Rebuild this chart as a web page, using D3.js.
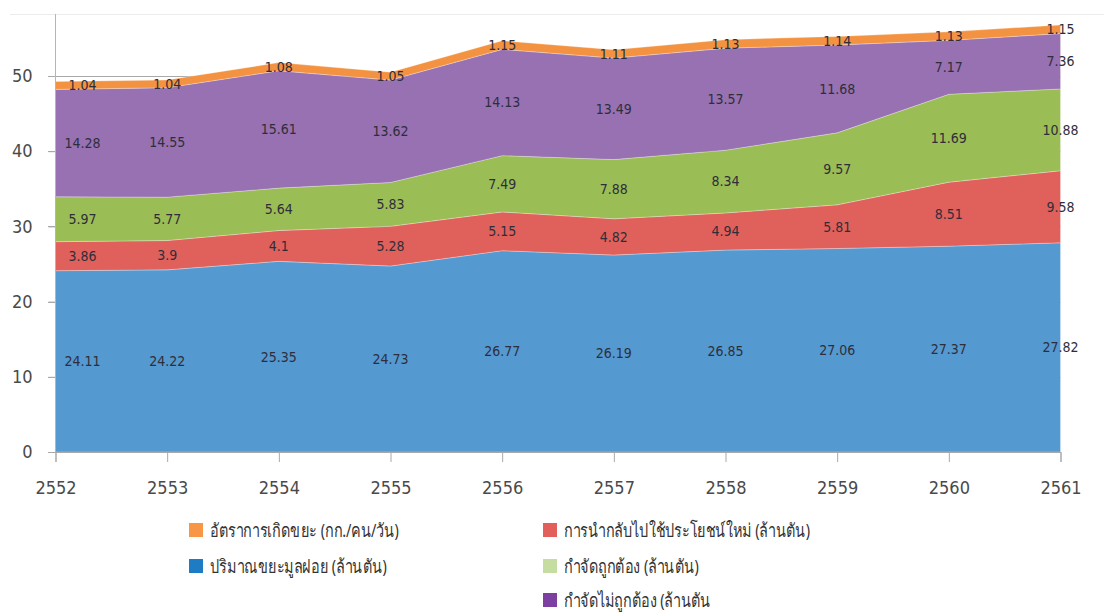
<!DOCTYPE html>
<html>
<head>
<meta charset="utf-8">
<script src="https://cdn.jsdelivr.net/npm/d3@7"></script>
<style>
  body { margin: 0; background: #fff; }
  svg { display: block; }
</style>
</head>
<body>
<svg id="chart" width="1104" height="614"></svg>
<script>
// data
var years = ["2552","2553","2554","2555","2556","2557","2558","2559","2560","2561"];
var wasteTotal = [24.11, 24.22, 25.35, 24.73, 26.77, 26.19, 26.85, 27.06, 27.37, 27.82];
var recycled   = [3.86, 3.9, 4.1, 5.28, 5.15, 4.82, 4.94, 5.81, 8.51, 9.58];
var disposedOk = [5.97, 5.77, 5.64, 5.83, 7.49, 7.88, 8.34, 9.57, 11.69, 10.88];
var disposedBad = [14.28, 14.55, 15.61, 13.62, 14.13, 13.49, 13.57, 11.68, 7.17, 7.36];
var genRate    = [1.04, 1.04, 1.08, 1.05, 1.15, 1.11, 1.13, 1.14, 1.13, 1.15];
var yTicks = [0, 10, 20, 30, 40, 50];

var seriesKeys = ["waste", "recycled", "ok", "bad", "rate"];
var areaColor = {waste: "#5599d1", recycled: "#e0615b", ok: "#9bbd55", bad: "#9771b1", rate: "#f39342"};

var legendItems = [
  {label: "อัตราการเกิดขยะ (กก./คน/วัน)", color: "#f79646", col: 0, row: 0},
  {label: "ปริมาณขยะมูลฝอย (ล้านตัน)", color: "#1e7cc4", col: 0, row: 1},
  {label: "การนำกลับไปใช้ประโยชน์ใหม่ (ล้านตัน)", color: "#e35f5c", col: 1, row: 0},
  {label: "กำจัดถูกต้อง (ล้านตัน)", color: "#c5dda0", col: 1, row: 1},
  {label: "กำจัดไม่ถูกต้อง (ล้านตัน", color: "#7d3fa0", col: 1, row: 2}
];

var table = years.map(function(y, i) {
  return {year: y, waste: wasteTotal[i], recycled: recycled[i], ok: disposedOk[i], bad: disposedBad[i], rate: genRate[i]};
});

var svg = d3.select("#chart");
var axisFont = "'Liberation Sans Narrow', 'DejaVu Sans Condensed', 'Open Sans', sans-serif";

var x = d3.scalePoint().domain(years).range([55.5, 1060.5]);
var y = d3.scaleLinear().domain([0, 50]).range([452, 76]);

// faint line along the top of the frame
svg.append("line")
  .attr("x1", 10).attr("x2", 1104).attr("y1", 14.5).attr("y2", 14.5)
  .style("stroke", "#ececec");

// gridlines (only the one at 50 shows above the areas)
svg.append("g").selectAll("line").data(yTicks).enter().append("line")
  .attr("x1", 48).attr("x2", x("2561"))
  .attr("y1", function(d){ return Math.round(y(d)) + 0.5; })
  .attr("y2", function(d){ return Math.round(y(d)) + 0.5; })
  .style("stroke", "#a9a9a9");

var stack = d3.stack().keys(seriesKeys);
var layers = stack(table);

var area = d3.area()
  .x(function(d){ return x(d.data.year); })
  .y0(function(d){ return y(d[0]); })
  .y1(function(d){ return y(d[1]); });

svg.append("g").selectAll("path").data(layers).enter().append("path")
  .attr("d", area)
  .style("fill", function(d){ return areaColor[d.key]; })
  .style("stroke", "rgba(255,255,255,0.35)")
  .style("stroke-width", 0.8);

// y axis
var yAxis = d3.axisLeft(y).tickValues(yTicks).tickSize(7).tickPadding(16);
var gy = svg.append("g").attr("transform", "translate(55.5,0)").call(yAxis);
gy.select(".domain").remove();
gy.append("line").attr("x1", 0).attr("x2", 0).attr("y1", 14).attr("y2", 452).style("stroke", "#b5b5b5");
gy.selectAll(".tick line").style("stroke", "#a9a9a9");
gy.selectAll(".tick text").style("font-family", axisFont)
  .style("font-size", "18px").style("fill", "#4a4a4a");

// x axis
var xAxis = d3.axisBottom(x).tickSize(10).tickPadding(19);
var gx = svg.append("g").attr("transform", "translate(0,452)").call(xAxis);
gx.select(".domain").style("stroke", "#a9a9a9");
gx.selectAll(".tick line").style("stroke", "#a9a9a9");
gx.selectAll(".tick text").style("font-family", axisFont)
  .style("font-size", "18px").style("fill", "#4a4a4a");

// value labels in the middle of every band
var labels = svg.append("g");
layers.forEach(function(layer) {
  labels.selectAll(null).data(layer).enter().append("text")
    .attr("x", function(d, i){ return x(d.data.year) + (i == 0 ? 27 : 0); })
    .attr("y", function(d){ return y((d[0] + d[1]) / 2); })
    .attr("dy", "0.35em")
    .attr("text-anchor", "middle")
    .style("font-family", "'DejaVu Sans Condensed', 'Liberation Sans', sans-serif")
    .style("font-size", "14px")
    .style("fill", "#2e2e3a")
    .text(function(d){ return d.data[layer.key]; });
});

// legend
var colX = [189, 543];
var rowY = [523, 559, 593];
var lg = svg.append("g").selectAll("g").data(legendItems).enter().append("g")
  .attr("transform", function(d){ return "translate(" + colX[d.col] + "," + rowY[d.row] + ")"; });
lg.append("rect").attr("width", 14).attr("height", 14)
  .style("fill", function(d){ return d.color; });
lg.append("text")
  .attr("transform", "translate(21,14) scale(0.76,1)")
  .style("font-family", "'Noto Sans', 'DejaVu Sans', sans-serif")
  .style("font-size", "19px")
  .style("fill", "#333")
  .text(function(d){ return d.label; });
</script>
</body>
</html>
